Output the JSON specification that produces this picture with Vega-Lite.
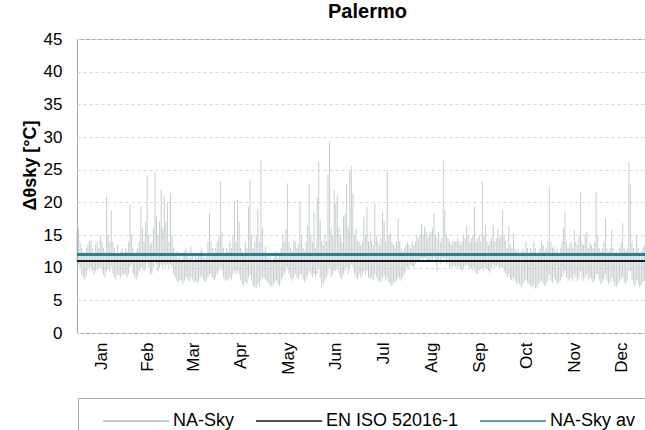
{
"$schema": "https://vega.github.io/schema/vega-lite/v6.json",
"width": 569, "height": 294,
"autosize": {"type": "none"},
"padding": {"left": 77, "top": 39, "right": 0, "bottom": 97},
"background": "white",
"config": {"font": "Liberation Sans", "view": {"stroke": "#a6a6a6", "strokeWidth": 1}},
"title": {"text": "Palermo", "fontSize": 20, "fontWeight": "bold", "color": "#000", "offset": 8, "dx": 6},
"data": {"values": [
{"d":0,"l":11,"h":15.5},{"d":1,"l":10.5,"h":16},{"d":2,"l":10,"h":14},{"d":3,"l":9,"h":13},{"d":4,"l":8.5,"h":12.5},{"d":5,"l":8.2,"h":12},{"d":6,"l":8.8,"h":13},{"d":7,"l":9.5,"h":13.5},{"d":8,"l":10,"h":14},{"d":9,"l":10,"h":14.2},
{"d":10,"l":9.5,"h":13},{"d":11,"l":9,"h":12},{"d":12,"l":9.5,"h":13.5},{"d":13,"l":10,"h":14},{"d":14,"l":9.8,"h":13},{"d":15,"l":10,"h":15},{"d":16,"l":9.5,"h":14},{"d":17,"l":9,"h":13},{"d":18,"l":8.5,"h":12.5},{"d":19,"l":9.5,"h":21},
{"d":20,"l":10,"h":15},{"d":21,"l":9.5,"h":14},{"d":22,"l":10,"h":18.7},{"d":23,"l":9,"h":14},{"d":24,"l":8.5,"h":13},{"d":25,"l":8.2,"h":12},{"d":26,"l":9,"h":13.5},{"d":27,"l":8.8,"h":12},{"d":28,"l":8.5,"h":12.5},{"d":29,"l":9,"h":13},
{"d":30,"l":8.8,"h":12},{"d":31,"l":9,"h":13},{"d":32,"l":8.5,"h":12.5},{"d":33,"l":9,"h":14},{"d":34,"l":10,"h":19.7},{"d":35,"l":10.5,"h":15},{"d":36,"l":9,"h":13},{"d":37,"l":8.5,"h":12},{"d":38,"l":8.2,"h":12.5},{"d":39,"l":8.8,"h":13},
{"d":40,"l":9.5,"h":14},{"d":41,"l":10,"h":19.3},{"d":42,"l":10,"h":16},{"d":43,"l":9.5,"h":14},{"d":44,"l":10,"h":17},{"d":45,"l":11,"h":24.2},{"d":46,"l":10,"h":15},{"d":47,"l":9,"h":13.5},{"d":48,"l":9,"h":14},{"d":49,"l":10,"h":16},
{"d":50,"l":11,"h":24.6},{"d":51,"l":10.5,"h":18},{"d":52,"l":9.5,"h":15},{"d":53,"l":10,"h":17},{"d":54,"l":10.5,"h":21.9},{"d":55,"l":10,"h":16},{"d":56,"l":10.5,"h":21},{"d":57,"l":10,"h":17},{"d":58,"l":10.5,"h":20},{"d":59,"l":10,"h":14},
{"d":60,"l":10.5,"h":21.4},{"d":61,"l":10,"h":15},{"d":62,"l":9,"h":13},{"d":63,"l":8.5,"h":12},{"d":64,"l":8,"h":12.5},{"d":65,"l":7.8,"h":11.5},{"d":66,"l":8.2,"h":12},{"d":67,"l":8,"h":11},{"d":68,"l":7.5,"h":12},{"d":69,"l":8,"h":12.5},
{"d":70,"l":8.5,"h":13},{"d":71,"l":8.2,"h":12},{"d":72,"l":8,"h":11.5},{"d":73,"l":8.5,"h":13.2},{"d":74,"l":8.2,"h":12},{"d":75,"l":7.8,"h":11},{"d":76,"l":8,"h":12},{"d":77,"l":7.6,"h":11.5},{"d":78,"l":8,"h":12},{"d":79,"l":8.5,"h":12.5},
{"d":80,"l":8.8,"h":13},{"d":81,"l":8.2,"h":12},{"d":82,"l":7.8,"h":11.5},{"d":83,"l":8,"h":12},{"d":84,"l":8.5,"h":14},{"d":85,"l":9,"h":18.3},{"d":86,"l":9,"h":14},{"d":87,"l":8.5,"h":13},{"d":88,"l":8,"h":12},{"d":89,"l":8.5,"h":13},
{"d":90,"l":9,"h":14},{"d":91,"l":9.5,"h":15},{"d":92,"l":10,"h":23.2},{"d":93,"l":9.5,"h":15.5},{"d":94,"l":8.5,"h":13},{"d":95,"l":8,"h":12},{"d":96,"l":8.2,"h":13},{"d":97,"l":8,"h":12.5},{"d":98,"l":8.5,"h":14},{"d":99,"l":8.2,"h":13},
{"d":100,"l":9,"h":15},{"d":101,"l":9.5,"h":20.1},{"d":102,"l":9,"h":14},{"d":103,"l":9.5,"h":20.4},{"d":104,"l":9,"h":17},{"d":105,"l":8,"h":13},{"d":106,"l":7.5,"h":12.5},{"d":107,"l":7.2,"h":12},{"d":108,"l":7.8,"h":14},{"d":109,"l":7.5,"h":13},
{"d":110,"l":8.5,"h":19.3},{"d":111,"l":9,"h":23.4},{"d":112,"l":8,"h":15},{"d":113,"l":7.2,"h":13},{"d":114,"l":7,"h":14},{"d":115,"l":6.8,"h":15},{"d":116,"l":7.5,"h":19},{"d":117,"l":7,"h":14},{"d":118,"l":8,"h":26.5},{"d":119,"l":8.5,"h":16},
{"d":120,"l":8.5,"h":12.5},{"d":121,"l":8.2,"h":13.2},{"d":122,"l":7.8,"h":12},{"d":123,"l":7.5,"h":11.5},{"d":124,"l":7.2,"h":12},{"d":125,"l":7,"h":11},{"d":126,"l":7.4,"h":11.5},{"d":127,"l":7.8,"h":12},{"d":128,"l":8,"h":12.5},{"d":129,"l":7.5,"h":11.5},
{"d":130,"l":7.2,"h":12},{"d":131,"l":8,"h":13},{"d":132,"l":8.5,"h":15},{"d":133,"l":9,"h":14},{"d":134,"l":9.5,"h":16},{"d":135,"l":10,"h":22.9},{"d":136,"l":9,"h":14},{"d":137,"l":8.5,"h":13},{"d":138,"l":8,"h":12.5},{"d":139,"l":8.5,"h":14.2},
{"d":140,"l":9,"h":14},{"d":141,"l":8.5,"h":13},{"d":142,"l":8.2,"h":13.5},{"d":143,"l":9,"h":20.1},{"d":144,"l":9,"h":15},{"d":145,"l":8.2,"h":13},{"d":146,"l":7.8,"h":12.5},{"d":147,"l":8.2,"h":14},{"d":148,"l":8.8,"h":16.5},{"d":149,"l":9.5,"h":22.9},
{"d":150,"l":9,"h":15},{"d":151,"l":8.5,"h":14},{"d":152,"l":9,"h":18.6},{"d":153,"l":8.5,"h":13},{"d":154,"l":9,"h":20.6},{"d":155,"l":10,"h":26.2},{"d":156,"l":8.5,"h":17.3},{"d":157,"l":7,"h":14},{"d":158,"l":7.5,"h":13.5},{"d":159,"l":8,"h":15},
{"d":160,"l":8.5,"h":14},{"d":161,"l":9,"h":24.2},{"d":162,"l":10,"h":29.3},{"d":163,"l":8.5,"h":16},{"d":164,"l":9,"h":15},{"d":165,"l":9.5,"h":21.9},{"d":166,"l":9.5,"h":19.8},{"d":167,"l":10,"h":21},{"d":168,"l":9,"h":16},{"d":169,"l":8.5,"h":15},
{"d":170,"l":8.2,"h":14},{"d":171,"l":9,"h":17.8},{"d":172,"l":9.5,"h":18.3},{"d":173,"l":10,"h":22.9},{"d":174,"l":9,"h":16},{"d":175,"l":10,"h":24.7},{"d":176,"l":10.5,"h":25.5},{"d":177,"l":10,"h":21.4},{"d":178,"l":9,"h":15},{"d":179,"l":8.5,"h":16},
{"d":180,"l":8.2,"h":14},{"d":181,"l":9,"h":14},{"d":182,"l":8.5,"h":13.5},{"d":183,"l":8.8,"h":14},{"d":184,"l":9.5,"h":17.8},{"d":185,"l":9,"h":15},{"d":186,"l":9.5,"h":19.3},{"d":187,"l":8.5,"h":14},{"d":188,"l":8.2,"h":15.5},{"d":189,"l":8.5,"h":14},
{"d":190,"l":8,"h":13.5},{"d":191,"l":9,"h":19.8},{"d":192,"l":8.5,"h":15},{"d":193,"l":8,"h":14},{"d":194,"l":7.8,"h":13.5},{"d":195,"l":8,"h":14.5},{"d":196,"l":8.5,"h":18.6},{"d":197,"l":8.8,"h":17},{"d":198,"l":8,"h":14},{"d":199,"l":8.5,"h":25},
{"d":200,"l":7.8,"h":15},{"d":201,"l":7.5,"h":15.3},{"d":202,"l":7.2,"h":14},{"d":203,"l":7.6,"h":13.5},{"d":204,"l":7.8,"h":13},{"d":205,"l":8,"h":14},{"d":206,"l":8.5,"h":17.6},{"d":207,"l":8.2,"h":14},{"d":208,"l":8,"h":13},{"d":209,"l":8.5,"h":12.5},
{"d":210,"l":9,"h":13},{"d":211,"l":9.5,"h":13.5},{"d":212,"l":10,"h":14},{"d":213,"l":10,"h":13.5},{"d":214,"l":10.5,"h":13},{"d":215,"l":10.2,"h":14},{"d":216,"l":10,"h":13.5},{"d":217,"l":10.5,"h":14},{"d":218,"l":11,"h":15},{"d":219,"l":10.8,"h":14.5},
{"d":220,"l":11,"h":15},{"d":221,"l":11.5,"h":16.8},{"d":222,"l":11,"h":15},{"d":223,"l":11.5,"h":16.3},{"d":224,"l":11,"h":15.5},{"d":225,"l":10.8,"h":14.5},{"d":226,"l":11,"h":15},{"d":227,"l":11,"h":15.5},{"d":228,"l":11.2,"h":16},{"d":229,"l":11.5,"h":18.3},
{"d":230,"l":11,"h":15},{"d":231,"l":9.5,"h":14.5},{"d":232,"l":11,"h":15.5},{"d":233,"l":10.5,"h":14},{"d":234,"l":10.8,"h":14.5},{"d":235,"l":11.5,"h":26.5},{"d":236,"l":11,"h":18.8},{"d":237,"l":10.5,"h":15},{"d":238,"l":10.8,"h":14.5},{"d":239,"l":9.8,"h":14},
{"d":240,"l":10.2,"h":13.5},{"d":241,"l":10,"h":14},{"d":242,"l":10.3,"h":14},{"d":243,"l":10,"h":14},{"d":244,"l":10.2,"h":14.5},{"d":245,"l":10,"h":14},{"d":246,"l":9.8,"h":13.5},{"d":247,"l":9.5,"h":14},{"d":248,"l":10,"h":15},{"d":249,"l":10.2,"h":14.5},
{"d":250,"l":10.5,"h":16.5},{"d":251,"l":10.3,"h":15},{"d":252,"l":10,"h":14},{"d":253,"l":9.8,"h":14.5},{"d":254,"l":9.5,"h":15},{"d":255,"l":10,"h":19.3},{"d":256,"l":9.2,"h":14},{"d":257,"l":9,"h":14.5},{"d":258,"l":9.5,"h":15},{"d":259,"l":9.8,"h":14},
{"d":260,"l":10,"h":23.2},{"d":261,"l":9.5,"h":15},{"d":262,"l":10,"h":16.5},{"d":263,"l":9.8,"h":14},{"d":264,"l":9.5,"h":13.5},{"d":265,"l":9.2,"h":14},{"d":266,"l":10,"h":14.5},{"d":267,"l":10.5,"h":16.5},{"d":268,"l":10,"h":14},{"d":269,"l":10.2,"h":14.5},
{"d":270,"l":10.5,"h":16},{"d":271,"l":10,"h":14.5},{"d":272,"l":10,"h":15},{"d":273,"l":10,"h":18.8},{"d":274,"l":9.5,"h":15},{"d":275,"l":9,"h":14},{"d":276,"l":8.5,"h":13},{"d":277,"l":9,"h":16.3},{"d":278,"l":8.2,"h":13.5},{"d":279,"l":8,"h":13},
{"d":280,"l":8.5,"h":15.3},{"d":281,"l":8,"h":13},{"d":282,"l":7.5,"h":12.5},{"d":283,"l":7.8,"h":13},{"d":284,"l":7.5,"h":12},{"d":285,"l":7,"h":12.5},{"d":286,"l":7.5,"h":13},{"d":287,"l":8,"h":12.5},{"d":288,"l":8.2,"h":14},{"d":289,"l":7.8,"h":13},
{"d":290,"l":7.5,"h":12},{"d":291,"l":7.2,"h":13},{"d":292,"l":7,"h":12.5},{"d":293,"l":7.4,"h":14},{"d":294,"l":6.8,"h":13},{"d":295,"l":7,"h":12},{"d":296,"l":7.5,"h":12.5},{"d":297,"l":7.8,"h":13},{"d":298,"l":8,"h":14},{"d":299,"l":7.6,"h":13.5},
{"d":300,"l":7.2,"h":12.5},{"d":301,"l":7.5,"h":13},{"d":302,"l":8,"h":14},{"d":303,"l":9,"h":22.4},{"d":304,"l":8,"h":14},{"d":305,"l":7.7,"h":13},{"d":306,"l":8.5,"h":13.2},{"d":307,"l":8,"h":12.5},{"d":308,"l":7.5,"h":13},{"d":309,"l":7.7,"h":12},
{"d":310,"l":8,"h":13},{"d":311,"l":8.5,"h":14},{"d":312,"l":9,"h":16},{"d":313,"l":9.5,"h":18.6},{"d":314,"l":8.5,"h":14},{"d":315,"l":8,"h":13},{"d":316,"l":8.3,"h":13.5},{"d":317,"l":8.5,"h":14},{"d":318,"l":8,"h":13},{"d":319,"l":9,"h":15.8},
{"d":320,"l":8.5,"h":14},{"d":321,"l":8,"h":13.5},{"d":322,"l":8.5,"h":15},{"d":323,"l":9.5,"h":21.6},{"d":324,"l":8.5,"h":14},{"d":325,"l":8,"h":13.5},{"d":326,"l":8.5,"h":15},{"d":327,"l":9,"h":15.5},{"d":328,"l":8,"h":13},{"d":329,"l":8.5,"h":14},
{"d":330,"l":8.3,"h":13.5},{"d":331,"l":7.7,"h":13},{"d":332,"l":8,"h":14},{"d":333,"l":9,"h":21.6},{"d":334,"l":9,"h":15},{"d":335,"l":8,"h":13},{"d":336,"l":7.5,"h":12.5},{"d":337,"l":7.8,"h":13},{"d":338,"l":8.2,"h":14},{"d":339,"l":9,"h":17.6},
{"d":340,"l":8,"h":13},{"d":341,"l":7.5,"h":12.5},{"d":342,"l":7.8,"h":13},{"d":343,"l":8.5,"h":15.8},{"d":344,"l":7.8,"h":13},{"d":345,"l":7.2,"h":12},{"d":346,"l":7,"h":12.5},{"d":347,"l":7.5,"h":12},{"d":348,"l":8,"h":13},{"d":349,"l":8.2,"h":14},
{"d":350,"l":8.5,"h":16.8},{"d":351,"l":7.8,"h":13},{"d":352,"l":7.5,"h":12.5},{"d":353,"l":8,"h":13},{"d":354,"l":9.5,"h":26.2},{"d":355,"l":9.5,"h":22.9},{"d":356,"l":8.2,"h":14},{"d":357,"l":7.5,"h":13},{"d":358,"l":7.2,"h":12.5},{"d":359,"l":8,"h":15},
{"d":360,"l":7.5,"h":13},{"d":361,"l":7,"h":12},{"d":362,"l":7.3,"h":12.5},{"d":363,"l":7.8,"h":13},{"d":364,"l":8,"h":13.5}
]},
"layer": [
{"mark": {"type": "rule", "strokeWidth": 0.75},
 "encoding": {
  "x": {"field": "d", "type": "quantitative", "scale": {"domain": [0, 365], "nice": false, "zero": false},
        "axis": {"values": [15.5, 45, 74.5, 105, 135.5, 166, 196.5, 227.5, 258, 288.5, 319, 349.5],
                 "labelExpr": "['Jan','Feb','Mar','Apr','May','Jun','Jul','Aug','Sep','Oct','Nov','Dec'][floor(datum.value/30.5)]",
                 "labelAngle": -90, "labelFontSize": 17, "labelColor": "#000", "labelPadding": 9, "labelOverlap": false,
                 "ticks": false, "domain": false, "grid": false, "title": null}},
  "y": {"field": "l", "type": "quantitative", "scale": {"domain": [0, 45], "nice": false},
        "axis": {"values": [0, 5, 10, 15, 20, 25, 30, 35, 40, 45], "tickCount": 10, "labelFontSize": 17, "labelColor": "#000", "labelPadding": 15, "labelOverlap": false,
                 "ticks": false, "domain": false, "grid": true, "gridColor": "#d9d9d9", "gridDash": [3, 3],
                 "title": "Δθsky [°C]", "titleFontSize": 18, "titleFontWeight": "bold", "titleColor": "#000",
                 "titleX": -47, "titleY": 126, "titleAngle": -90, "titleAlign": "center", "titleBaseline": "middle"}},
  "y2": {"field": "h"},
  "color": {"datum": "NA-Sky", "type": "nominal",
            "scale": {"domain": ["NA-Sky", "EN ISO 52016-1", "NA-Sky av"], "range": ["#b2bdbf", "#1a1a1a", "#2e8091"]},
            "legend": {"orient": "none", "legendX": 1, "legendY": 359, "direction": "horizontal", "title": null,
                       "symbolType": "M0.4,0H13.6", "symbolSize": 100, "symbolStrokeWidth": 1.5,
                       "labelFontSize": 18, "labelColor": "#000", "labelOffset": 63, "columnPadding": 10,
                       "padding": 14, "strokeColor": "#a6a6a6", "fillColor": "white"}}
 }},
{"mark": {"type": "rule", "strokeWidth": 1.4},
 "encoding": {"y": {"datum": 11, "type": "quantitative",
   "axis": {"values": [0, 5, 10, 15, 20, 25, 30, 35, 40, 45], "tickCount": 10, "labelFontSize": 17, "labelColor": "#000", "labelPadding": 15, "labelOverlap": false,
                 "ticks": false, "domain": false, "grid": true, "gridColor": "#d9d9d9", "gridDash": [3, 3],
                 "title": "Δθsky [°C]", "titleFontSize": 18, "titleFontWeight": "bold", "titleColor": "#000",
                 "titleX": -47, "titleY": 126, "titleAngle": -90, "titleAlign": "center", "titleBaseline": "middle"}},
   "color": {"datum": "EN ISO 52016-1"}}},
{"mark": {"type": "rule", "strokeWidth": 1.8},
 "encoding": {"y": {"datum": 12, "type": "quantitative",
   "axis": {"values": [0, 5, 10, 15, 20, 25, 30, 35, 40, 45], "tickCount": 10, "labelFontSize": 17, "labelColor": "#000", "labelPadding": 15, "labelOverlap": false,
                 "ticks": false, "domain": false, "grid": true, "gridColor": "#d9d9d9", "gridDash": [3, 3],
                 "title": "Δθsky [°C]", "titleFontSize": 18, "titleFontWeight": "bold", "titleColor": "#000",
                 "titleX": -47, "titleY": 126, "titleAngle": -90, "titleAlign": "center", "titleBaseline": "middle"}},
   "color": {"datum": "NA-Sky av"}}}
]
}
